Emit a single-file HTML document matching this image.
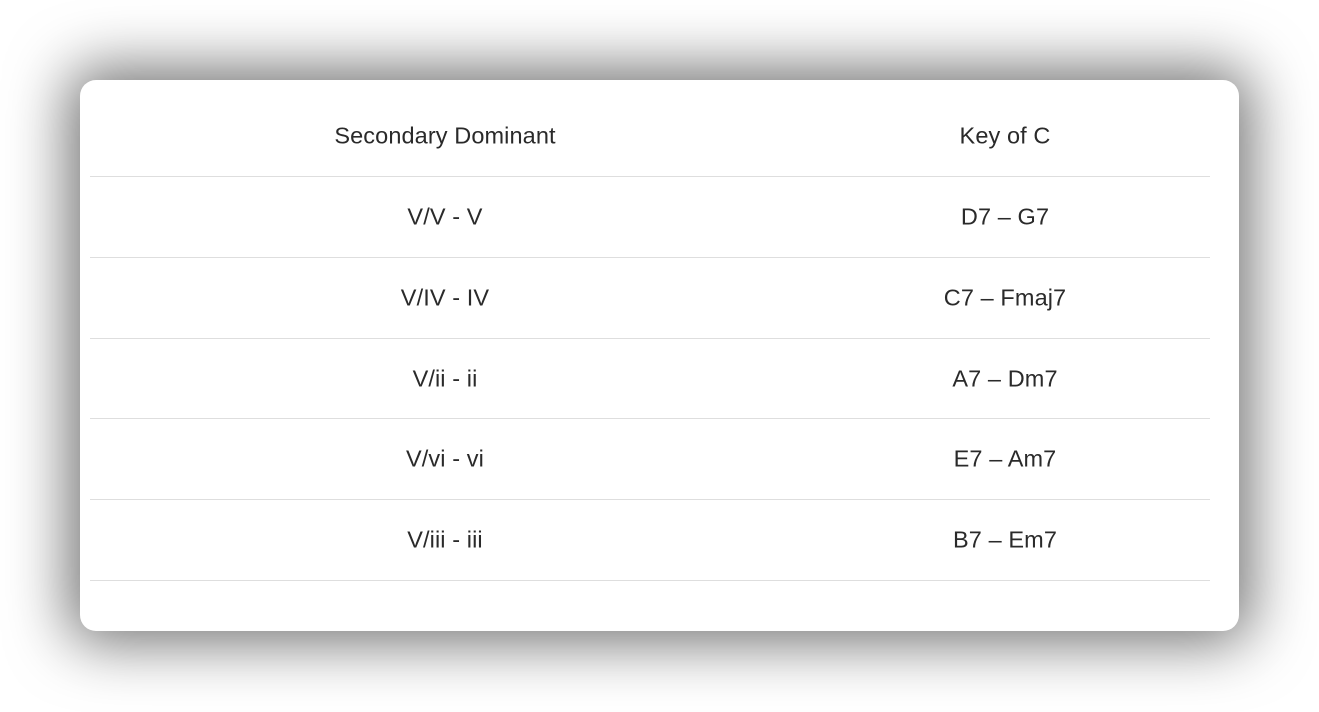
<!DOCTYPE html>
<html><head><style>
html,body{margin:0;padding:0;background:#fff;width:1319px;height:712px;overflow:hidden}
.card{position:absolute;left:80px;top:80px;width:1159px;height:551px;background:#fff;border-radius:16px;box-shadow:0 0 60px 12px rgba(0,0,0,0.55)}
.row{position:absolute;left:10px;width:1120px;border-bottom:1px solid #dedede;font-family:"Liberation Sans",sans-serif;font-size:23.5px;letter-spacing:0.1px;color:#2a2a2a}
.row span{position:absolute;top:50%;transform:translate(-50%,-50%);white-space:nowrap}
.a{left:355px}.b{left:915px}
</style></head><body>
<div class="card">
<div class="row" style="top:16px;height:80px"><span class="a">Secondary Dominant</span><span class="b">Key of C</span></div>
<div class="row" style="top:97px;height:80px"><span class="a">V/V - V</span><span class="b">D7 – G7</span></div>
<div class="row" style="top:178px;height:80px"><span class="a">V/IV - IV</span><span class="b">C7 – Fmaj7</span></div>
<div class="row" style="top:259px;height:79px"><span class="a">V/ii - ii</span><span class="b">A7 – Dm7</span></div>
<div class="row" style="top:339px;height:80px"><span class="a">V/vi - vi</span><span class="b">E7 – Am7</span></div>
<div class="row" style="top:420px;height:80px"><span class="a">V/iii - iii</span><span class="b">B7 – Em7</span></div>
</div>
</body></html>
